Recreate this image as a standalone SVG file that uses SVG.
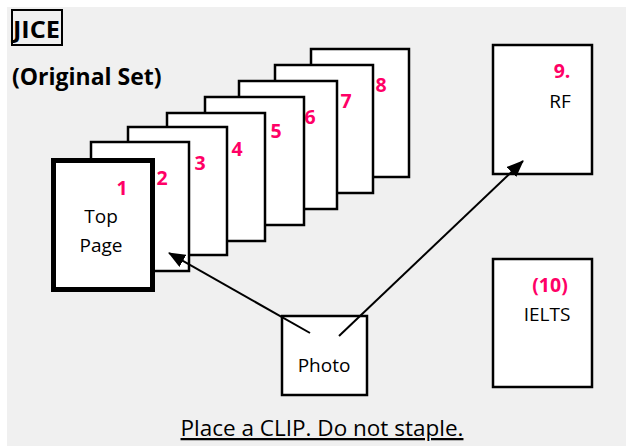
<svg xmlns="http://www.w3.org/2000/svg" width="626" height="446" viewBox="0 0 626 446">
<defs>
<style>
.pg{fill:#ffffff;stroke:#000000;stroke-width:2.5}
.num{font-family:"Open Sans","Noto Sans",sans-serif;font-weight:bold;font-size:19.5px;fill:#ff0066;text-anchor:middle}
.lbl{font-family:"Open Sans","Noto Sans",sans-serif;font-size:19px;fill:#000000;text-anchor:middle}
.ttl{font-family:"Open Sans","Noto Sans",sans-serif;font-weight:bold;font-size:23px;fill:#000000}
.ftr{font-family:"Open Sans","Noto Sans",sans-serif;font-size:22.5px;fill:#000000;text-anchor:middle;text-decoration:underline}
.conn{stroke:#000000;stroke-width:2;fill:none}
</style>
<marker id="ah" markerWidth="17" markerHeight="14" refX="16" refY="7" orient="auto" markerUnits="userSpaceOnUse" viewBox="0 0 17 14">
<path d="M0,0 L17,7 L0,14 z" fill="#000000"/>
</marker>
</defs>
<rect x="0" y="0" width="626" height="446" fill="#ffffff"/>
<rect x="7" y="7" width="619" height="439" fill="#f0f0f0"/>
<g id="title">
<rect x="12" y="10" width="50" height="35" fill="none" stroke="#000000" stroke-width="2"/>
<text class="ttl" x="13" y="38" textLength="47" lengthAdjust="spacingAndGlyphs">JICE</text>
<text class="ttl" x="12" y="85">(Original Set)</text>
</g>
<g id="page8"><rect class="pg" x="311" y="49" width="98" height="128"/><text class="num" x="381" y="92">8</text></g>
<g id="page7"><rect class="pg" x="275" y="65" width="98" height="128"/><text class="num" x="346" y="108">7</text></g>
<g id="page6"><rect class="pg" x="239" y="81" width="98" height="128"/><text class="num" x="310" y="124">6</text></g>
<g id="page5"><rect class="pg" x="205" y="97" width="99" height="128"/><text class="num" x="276" y="138">5</text></g>
<g id="page4"><rect class="pg" x="167" y="113" width="98" height="128"/><text class="num" x="237" y="156">4</text></g>
<g id="page3"><rect class="pg" x="128" y="127" width="99" height="128"/><text class="num" x="200" y="170">3</text></g>
<g id="page2"><rect class="pg" x="91" y="142" width="98" height="129"/><text class="num" x="162" y="185">2</text></g>
<g id="page1">
<rect x="53.5" y="160.5" width="99" height="129" fill="#ffffff" stroke="#000000" stroke-width="5"/>
<text class="num" x="122" y="195">1</text>
<text class="lbl" x="101" y="223">Top</text>
<text class="lbl" x="101" y="252">Page</text>
</g>
<g id="page9">
<rect class="pg" x="493" y="45" width="99" height="129"/>
<text class="num" x="562" y="78">9.</text>
<text class="lbl" x="560" y="108">RF</text>
</g>
<g id="page10">
<rect class="pg" x="493" y="259" width="99" height="128"/>
<text class="num" x="550" y="292">(10)</text>
<text class="lbl" x="547" y="321">IELTS</text>
</g>
<g id="photo">
<rect class="pg" x="282" y="316" width="85" height="79"/>
<text class="lbl" x="324" y="372">Photo</text>
</g>
<g id="connectors">
<line class="conn" x1="310" y1="333" x2="169" y2="253" marker-end="url(#ah)"/>
<line class="conn" x1="339" y1="336" x2="523" y2="161" marker-end="url(#ah)"/>
</g>
<g id="footer">
<text class="ftr" x="322" y="436">Place a CLIP. Do not staple.</text>
</g>
</svg>
